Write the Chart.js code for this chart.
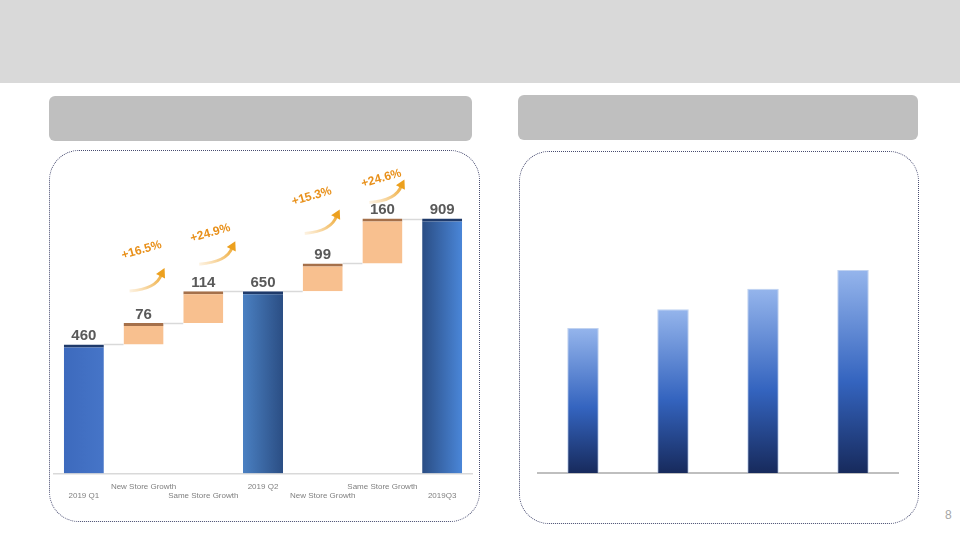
<!DOCTYPE html>
<html>
<head>
<meta charset="utf-8">
<script src="https://cdn.jsdelivr.net/npm/chart.js@4.4.1/dist/chart.umd.min.js"></script>
<style>
body{margin:0;width:960px;height:540px;position:relative;background:#fff;font-family:"Liberation Sans",Arial,sans-serif;overflow:hidden}
.band{position:absolute;left:0;top:0;width:960px;height:83px;background:#d9d9d9}
.head{position:absolute;background:#bfbfbf;border-radius:6px}
.panel{position:absolute;border:1px dotted #474b70;border-radius:30px;box-sizing:border-box}
.box{position:absolute}
.page{position:absolute;left:945px;top:508px;font-size:12px;color:#a6a6a6}
</style>
</head>
<body>
<div class="band"></div>
<div class="head" style="left:49px;top:96px;width:423px;height:45px"></div>
<div class="head" style="left:518px;top:95px;width:400px;height:45px"></div>
<div class="panel" style="left:49px;top:150px;width:431px;height:372px"></div>
<div class="panel" style="left:519px;top:151px;width:400px;height:373px"></div>
<div class="box" style="left:49px;top:155px;width:430px;height:360px"><canvas id="bridge"></canvas></div>
<div class="box" style="left:519px;top:155px;width:400px;height:360px"><canvas id="trend"></canvas></div>
<div class="page">8</div>
<script>
// waterfall data
const categories = [
  ['', '2019 Q1'],
  ['New Store Growth', ''],
  ['', 'Same Store Growth'],
  ['2019 Q2', ''],
  ['', 'New Store Growth'],
  ['Same Store Growth', ''],
  ['', '2019Q3']
];
const values = [460, 76, 114, 650, 99, 160, 909];
const isTotal = [true, false, false, true, false, false, true];
const growth = ['', '+16.5%', '+24.9%', '', '+15.3%', '+24.6%', ''];

// right chart data (no labels shown)
const trendLabels = ['1', '2', '3', '4'];
const trendValues = [100, 113, 127, 140];

// build floating ranges
const ranges = [];
let running = 0;
values.forEach((v, i) => {
  if (isTotal[i]) { ranges.push([0, v]); running = v; }
  else { ranges.push([running, running + v]); running += v; }
});

// offsets of the growth notes relative to bar centre / top
const noteOffsets = {
  1: {tx: -2, ty: -73, ax: -14, ay: -32, bx: 21, by: -55},
  2: {tx: 7, ty: -58, ax: -4, ay: -27, bx: 32, by: -50},
  4: {tx: -11, ty: -67, ax: -18, ay: -30, bx: 17, by: -54},
  5: {tx: -1, ty: -40, ax: -13, ay: -16, bx: 22, by: -39}
};

const bridgeDecor = {
  id: 'bridgeDecor',
  beforeDatasetsDraw(chart) {
    const ctx = chart.ctx;
    const meta = chart.getDatasetMeta(0);
    const y = chart.scales.y;
    ctx.save();
    ctx.strokeStyle = '#d9d9d9';
    ctx.lineWidth = 1.5;
    for (let i = 0; i < meta.data.length - 1; i++) {
      const a = meta.data[i], b = meta.data[i + 1];
      const py = Math.round(y.getPixelForValue(ranges[i][1])) + 0.5;
      ctx.beginPath();
      ctx.moveTo(a.x + a.width / 2, py);
      ctx.lineTo(b.x - b.width / 2, py);
      ctx.stroke();
    }
    ctx.restore();
  },
  afterDatasetsDraw(chart) {
    const ctx = chart.ctx;
    const meta = chart.getDatasetMeta(0);
    const y = chart.scales.y;
    ctx.save();
    ctx.font = 'bold 15px "Liberation Sans", Arial, sans-serif';
    ctx.fillStyle = '#595959';
    ctx.textAlign = 'center';
    ctx.textBaseline = 'bottom';
    meta.data.forEach((bar, i) => {
      const top = y.getPixelForValue(ranges[i][1]);
      ctx.fillText(String(values[i]), bar.x, top - 1);
    });
    // growth notes with arrows
    meta.data.forEach((bar, i) => {
      if (!growth[i]) return;
      const o = noteOffsets[i];
      const top = y.getPixelForValue(ranges[i][1]);
      const tx = bar.x + o.tx, ty = top + o.ty;
      ctx.save();
      ctx.translate(tx, ty);
      ctx.rotate(-16 * Math.PI / 180);
      ctx.font = 'bold 12px "Liberation Sans", Arial, sans-serif';
      ctx.fillStyle = '#e8901a';
      ctx.textBaseline = 'middle';
      ctx.fillText(growth[i], 0, 0);
      ctx.restore();
      const x0 = bar.x + o.ax, y0 = top + o.ay;
      const x1 = bar.x + o.bx, y1 = top + o.by;
      const g = ctx.createLinearGradient(x0, y0, x1, y1);
      g.addColorStop(0, 'rgba(240,170,60,0.15)');
      g.addColorStop(1, 'rgba(236,160,30,1)');
      ctx.strokeStyle = g;
      ctx.lineWidth = 3;
      ctx.beginPath();
      ctx.moveTo(x0, y0);
      ctx.quadraticCurveTo(x1 - 8, y0 - 2, x1 - 3, y1 + 6);
      ctx.stroke();
      // arrow head
      const ang = Math.atan2(-8, 4);
      ctx.fillStyle = '#eca01e';
      ctx.beginPath();
      ctx.moveTo(x1, y1);
      ctx.lineTo(x1 - 9 * Math.cos(ang) + 5 * Math.sin(ang), y1 - 9 * Math.sin(ang) - 5 * Math.cos(ang));
      ctx.lineTo(x1 - 9 * Math.cos(ang) - 5 * Math.sin(ang), y1 - 9 * Math.sin(ang) + 5 * Math.cos(ang));
      ctx.closePath();
      ctx.fill();
    });
    ctx.restore();
  }
};

function totalFill(context) {
  const i = context.dataIndex;
  if (!isTotal[i]) return '#f8c08f';
  const chart = context.chart;
  const xs = chart.scales.x;
  const area = chart.chartArea;
  if (!xs || !area) return '#4472c4';
  const cx = xs.getPixelForValue(i);
  const half = (area.width / values.length) * 0.67 / 2;
  const g = chart.ctx.createLinearGradient(cx - half, 0, cx + half, 0);
  if (i === 0) {
    g.addColorStop(0, '#3d6abd');
    g.addColorStop(1, '#4675c8');
  } else if (i === 3) {
    g.addColorStop(0, '#4a80c2');
    g.addColorStop(1, '#2b4e84');
  } else {
    g.addColorStop(0, '#2a4d84');
    g.addColorStop(1, '#4a86d8');
  }
  return g;
}

new Chart(document.getElementById('bridge').getContext('2d'), {
  type: 'bar',
  data: {
    labels: categories,
    datasets: [{
      data: ranges,
      backgroundColor: totalFill,
      borderColor: values.map((v, i) => isTotal[i] ? '#1f3a6a' : '#a5704a'),
      borderWidth: {top: 3, left: 0, right: 0, bottom: 0},
      borderSkipped: false,
      barPercentage: 0.67,
      categoryPercentage: 1
    }]
  },
  options: {
    responsive: true,
    maintainAspectRatio: false,
    animation: false,
    layout: {padding: {left: 5, right: 7, top: 38, bottom: 14}},
    plugins: {legend: {display: false}, tooltip: {enabled: false}},
    scales: {
      x: {
        grid: {display: false},
        border: {color: '#d9d9d9', width: 1.5},
        ticks: {
          color: '#7f7f7f',
          font: {size: 8, family: '"Liberation Sans", Arial, sans-serif', lineHeight: 1.1},
          padding: 1,
          maxRotation: 0,
          autoSkip: false
        }
      },
      y: {display: false, min: 0, max: 1000}
    }
  },
  plugins: [bridgeDecor]
});

function trendFill(context) {
  const chart = context.chart;
  const area = chart.chartArea;
  const ys = chart.scales.y;
  if (!area || !ys) return '#3565c0';
  const top = ys.getPixelForValue(trendValues[context.dataIndex]);
  const g = chart.ctx.createLinearGradient(0, area.bottom, 0, top);
  g.addColorStop(0, '#172a5c');
  g.addColorStop(0.45, '#3464bf');
  g.addColorStop(1, '#95b5ec');
  return g;
}

new Chart(document.getElementById('trend').getContext('2d'), {
  type: 'bar',
  data: {
    labels: trendLabels,
    datasets: [{
      data: trendValues,
      backgroundColor: trendFill,
      borderColor: 'rgba(150,180,230,0.6)',
      borderWidth: 1,
      barPercentage: 0.35,
      categoryPercentage: 1
    }]
  },
  options: {
    responsive: true,
    maintainAspectRatio: false,
    animation: false,
    layout: {padding: {left: 19, right: 21, top: 28, bottom: 34}},
    plugins: {legend: {display: false}, tooltip: {enabled: false}},
    scales: {
      x: {
        grid: {display: false},
        border: {color: '#bfbfbf', width: 2},
        ticks: {display: false}
      },
      y: {display: false, min: 0, max: 200}
    }
  }
});
</script>
</body>
</html>
